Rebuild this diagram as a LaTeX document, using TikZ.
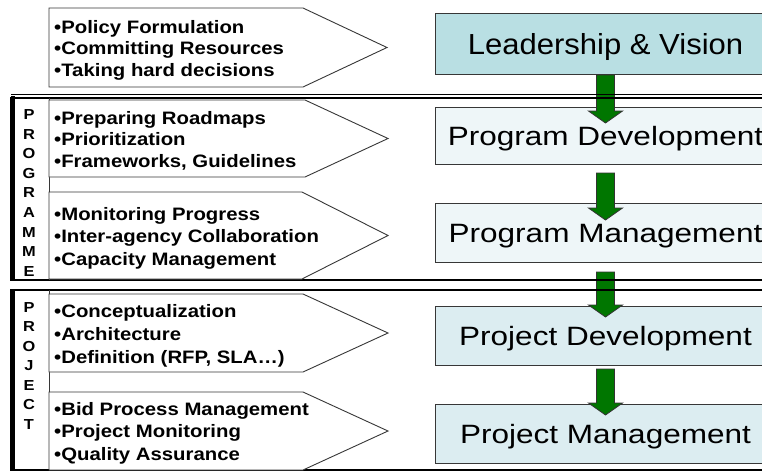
\documentclass[tikz,border=0pt]{standalone}
\usepackage{fontspec}
\setmainfont{Liberation Sans}
\newfontfamily\bulfont[FakeStretch=1.13]{Liberation Sans}
\newfontfamily\boxfnt[FakeStretch=1.19]{Liberation Sans}
\newfontfamily\leadfnt[FakeStretch=1.07]{Liberation Sans}
\usetikzlibrary{calc}
\definecolor{leadfill}{RGB}{185,223,227}
\definecolor{progfill}{RGB}{238,246,248}
\definecolor{projfill}{RGB}{220,237,241}
\definecolor{arrgreen}{RGB}{0,118,0}
\definecolor{edgec}{RGB}{55,55,55}
\newcommand\garrow[2]{%
  \filldraw[fill=arrgreen, draw=black!80, line width=0.8pt, line join=miter]
   let \p1=(#1), \p2=(#2) in
   (\x1-9pt,\y1) -- (\x1+9pt,\y1) -- (\x1+9pt,\y2+12pt) -- (\x1+17pt,\y2+12pt)
   -- (\x1,\y2) -- (\x1-17pt,\y2+12pt) -- (\x1-9pt,\y2+12pt) -- cycle;}
\begin{document}
\begin{tikzpicture}[x=1pt,y=-1pt,
  rbox/.style={draw=edgec, line width=1pt, minimum width=340pt, anchor=north west,
    inner sep=0pt, text height=19pt, text depth=0pt,
    font=\boxfnt\fontsize{26.5}{26.5}\selectfont},
  chev/.style={draw=edgec, line width=0.9pt, fill=white, line join=miter},
  bul/.style={anchor=base west, inner sep=0pt,
    font=\bulfont\bfseries\fontsize{18}{22}\selectfont},
  lett/.style={inner sep=0pt, anchor=base,
    font=\bulfont\bfseries\fontsize{14.5}{14.5}\selectfont},
  frameline/.style={draw=black, line width=1.5pt},
  frameleft/.style={draw=black, line width=3.5pt},
  divider/.style={draw=edgec, line width=0.9pt}
]
\useasboundingbox (0,0) rectangle (762,472);
\clip (0,0) rectangle (762,472);
\fill[white] (0,0) rectangle (762,472);

% right-hand boxes
\node[rbox, fill=leadfill, minimum height=61pt, text height=21pt,
  font=\leadfnt\fontsize{29}{29}\selectfont] (lv) at (435,13) {Leadership \& Vision};
\node[rbox, fill=progfill, minimum height=57pt] (pd) at (435,107) {Program Development};
\node[rbox, fill=progfill, minimum height=59pt] (pm) at (435,203) {Program Management};
\node[rbox, fill=projfill, minimum height=59pt] (jd) at (435,306) {Project Development};
\node[rbox, fill=projfill, minimum height=59pt] (jm) at (435,404) {Project Management};

% green arrows
\garrow{lv.south}{$(pd.north)+(0,16)$}
\garrow{$(pd.south)+(0,8)$}{$(pm.north)+(0,17)$}
\garrow{$(pm.south)+(0,9)$}{$(jd.north)+(0,11)$}
\garrow{$(jd.south)+(0,3)$}{$(jm.north)+(0,11)$}

% frames
\draw[draw=black, line width=1pt] (11,94) -- (775,94);
\draw[frameline] (11,98) rectangle (775,280);
\draw[frameleft] (13,96) -- (13,280);
\draw[divider] (49,98) -- (49,280);
\draw[frameline] (11,290) rectangle (775,470);
\draw[frameleft] (13,289) -- (13,471);
\draw[divider] (49,290) -- (49,470);

% chevrons
\draw[chev] (49,8) -- (303,8) -- (387,47.5) -- (303,87) -- (49,87) -- cycle;
\draw[chev] (49,100) -- (305,100) -- (388,138.5) -- (305,177) -- (49,177) -- cycle;
\draw[chev] (49,192) -- (302,192) -- (388,235.5) -- (302,279) -- (49,279) -- cycle;
\draw[chev] (49,294) -- (303,294) -- (388,333) -- (303,372) -- (49,372) -- cycle;
\draw[chev] (49,392) -- (303,392) -- (388,431) -- (303,470) -- (49,470) -- cycle;

% chevron texts
\foreach \t [count=\i from 0] in {Policy Formulation, Committing Resources, Taking hard decisions}
  \node[bul] (a\i) at (54,33+\i*21.5) {•\t};
\foreach \t [count=\i from 0] in {Preparing Roadmaps, Prioritization, {Frameworks, Guidelines}}
  \node[bul] (b\i) at (54,124+\i*21.5) {•\t};
\foreach \t [count=\i from 0] in {Monitoring Progress, Inter-agency Collaboration, Capacity Management}
  \node[bul] (c\i) at (54,220+\i*22.5) {•\t};
\foreach \t [count=\i from 0] in {Conceptualization, Architecture, {Definition (RFP, SLA\ldots)}}
  \node[bul] (d\i) at (54,317+\i*23) {•\t};
\foreach \t [count=\i from 0] in {Bid Process Management, Project Monitoring, Quality Assurance}
  \node[bul] (e\i) at (54,415+\i*22.5) {•\t};

% vertical words
\foreach \l [count=\i from 0] in {P,R,O,G,R,A,M,M,E}
  \node[lett] (pg\i) at (29,119.5+\i*19.6) {\l};
\foreach \l [count=\i from 0] in {P,R,O,J,E,C,T}
  \node[lett] (pj\i) at (29,312+\i*19.5) {\l};
\end{tikzpicture}
\end{document}
